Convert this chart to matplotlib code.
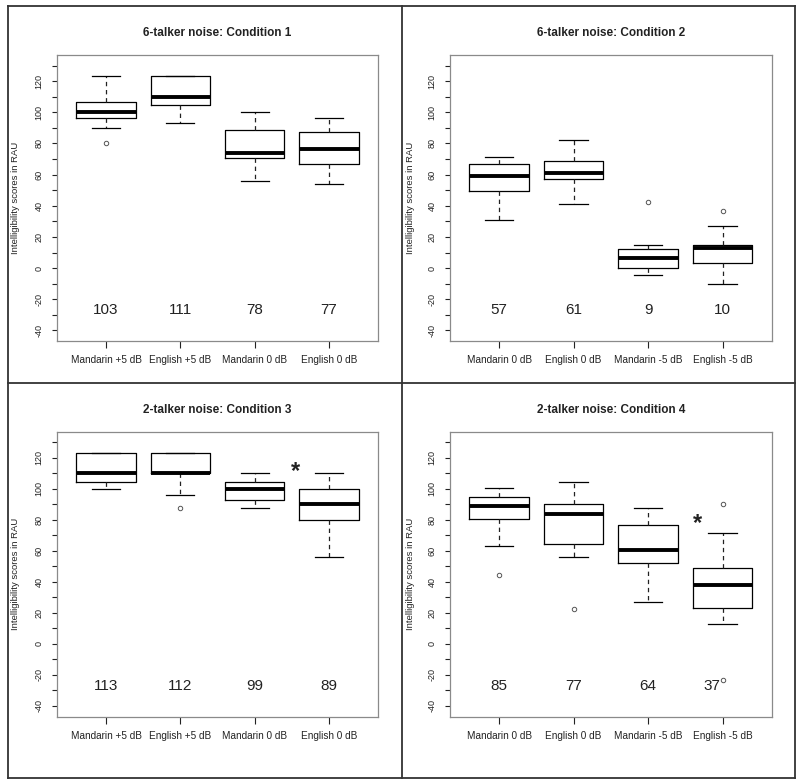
import matplotlib
matplotlib.use("Agg")
import matplotlib.pyplot as plt
from matplotlib.lines import Line2D

plt.rcParams['font.family'] = ['Liberation Sans', 'DejaVu Sans']

# ---------------- data ----------------
titles = ["6-talker noise: Condition 1", "6-talker noise: Condition 2",
          "2-talker noise: Condition 3", "2-talker noise: Condition 4"]

labels_a = ["Mandarin +5 dB", "English +5 dB", "Mandarin 0 dB", "English 0 dB"]
labels_b = ["Mandarin 0 dB", "English 0 dB", "Mandarin -5 dB", "English -5 dB"]

# Condition 1
c1_whislo = [90.2, 93.2, 55.7, 53.8]
c1_q1 = [96.4, 104.4, 70.5, 66.9]
c1_med = [100.3, 110.0, 74.1, 76.5]
c1_q3 = [106.9, 123.4, 88.7, 87.4]
c1_whishi = [123.4, 123.4, 100.3, 96.4]
c1_fliers = [[80.0], [], [], []]
c1_means = [103, 111, 78, 77]

# Condition 2
c2_whislo = [30.6, 40.9, -4.5, -10.3]
c2_q1 = [49.7, 57.4, 0.0, 3.2]
c2_med = [59.1, 61.3, 6.4, 12.6]
c2_q3 = [66.9, 69.0, 12.4, 15.0]
c2_whishi = [71.1, 82.5, 15.0, 26.8]
c2_fliers = [[], [], [42.4], [36.9]]
c2_means = [57, 61, 9, 10]

# Condition 3
c3_whislo = [100.1, 96.3, 87.7, 55.8]
c3_q1 = [104.4, 110.0, 93.0, 80.0]
c3_med = [110.0, 110.0, 100.1, 90.0]
c3_q3 = [122.8, 122.8, 104.4, 99.9]
c3_whishi = [122.8, 122.8, 110.0, 110.0]
c3_fliers = [[], [87.7], [], []]
c3_means = [113, 112, 99, 89]

# Condition 4
c4_whislo = [63.3, 55.9, 27.0, 12.6]
c4_q1 = [80.2, 64.4, 52.0, 23.3]
c4_med = [89.0, 83.9, 60.3, 38.1]
c4_q3 = [94.5, 90.0, 76.6, 49.2]
c4_whishi = [100.3, 104.6, 87.7, 71.3]
c4_fliers = [[44.7], [22.5], [], [90.3, -23.1]]
c4_means = [85, 77, 64, 37]

yticks = list(range(-40, 131, 10))
ylabels_shown = [str(v) if v % 20 == 0 else "" for v in yticks]

panels = [
    (labels_a, c1_whislo, c1_q1, c1_med, c1_q3, c1_whishi, c1_fliers, c1_means, None),
    (labels_b, c2_whislo, c2_q1, c2_med, c2_q3, c2_whishi, c2_fliers, c2_means, None),
    (labels_a, c3_whislo, c3_q1, c3_med, c3_q3, c3_whishi, c3_fliers, c3_means, (3.556, 111.0)),
    (labels_b, c4_whislo, c4_q1, c4_med, c4_q3, c4_whishi, c4_fliers, c4_means, (3.67, 77.4)),
]

# ---------------- layout ----------------
W, H = 800, 783
fig = plt.figure(figsize=(W / 100, H / 100), dpi=100)

def rect(x0, y0, x1, y1):
    return [x0 / W, 1 - y1 / H, (x1 - x0) / W, (y1 - y0) / H]

ax_rects = [rect(57, 55, 378, 341), rect(450, 55, 771.7, 341),
            rect(57, 431.7, 378, 716.5), rect(450, 431.7, 771.7, 716.5)]
ylab_x = [-0.114, -0.108, -0.114, -0.108]

for i, (labels, wlo, q1, med, q3, whi, fl, means, star) in enumerate(panels):
    ax = fig.add_axes(ax_rects[i])
    stats = []
    for j in range(4):
        stats.append(dict(whislo=wlo[j], q1=q1[j], med=med[j], q3=q3[j],
                          whishi=whi[j], fliers=fl[j], label=labels[j]))
    pos = [1, 2, 3, 4]
    ax.bxp(stats, positions=pos, widths=0.8, patch_artist=False,
           boxprops=dict(color="black", linewidth=0.9),
           medianprops=dict(color="black", linewidth=2.8, solid_capstyle="butt"),
           whiskerprops=dict(color="#222222", linewidth=0.9, linestyle=(0, (3.5, 3))),
           capprops=dict(color="black", linewidth=0.9),
           capwidths=0.38,
           flierprops=dict(marker="o", markersize=3.2, markerfacecolor="none",
                           markeredgecolor="#555555", markeredgewidth=0.7))
    ax.set_xlim(0.34, 4.66)
    ax.set_ylim(-46.8, 136.8)
    ax.set_yticks(yticks)
    ax.set_yticklabels(ylabels_shown)
    ax.set_xticks(pos)
    ax.set_xticklabels(labels)
    ax.tick_params(axis="y", labelrotation=90, length=3.6, width=0.8, pad=6,
                   labelsize=6.5, color="#222222", labelcolor="#222222")
    ax.tick_params(axis="x", length=4.8, width=0.8, pad=5.3,
                   labelsize=7.2, color="#222222", labelcolor="#222222")
    for lbl in ax.get_yticklabels():
        lbl.set_verticalalignment("center")
    for sp in ax.spines.values():
        sp.set_color("#8a8a8a")
        sp.set_linewidth(0.9)
    ax.set_title(titles[i], fontsize=8.5, fontweight="bold", pad=13.5, color="#222222")
    ax.set_ylabel("Intelligibility scores in RAU", fontsize=6.8, color="#222222")
    ax.yaxis.set_label_coords(ylab_x[i], 0.5)
    for j, m in enumerate(means):
        xshift = -0.14 if (i == 3 and j == 3) else 0.0
        ax.text(pos[j] + xshift, -27, str(m), ha="center", va="center",
                fontsize=11, color="#222222")
    if star is not None:
        ax.text(star[0], star[1], "*", ha="center", va="center",
                fontsize=17, fontweight="bold", color="#222222")

# panel frames
def fl_line(x0, y0, x1, y1):
    fig.add_artist(Line2D([x0 / W, x1 / W], [1 - y0 / H, 1 - y1 / H],
                          transform=fig.transFigure, color="#333333", linewidth=1.3))

L, R, T, B, VX, HY = 8, 795, 6, 778, 402, 383
fl_line(L, T, R, T)
fl_line(L, B, R, B)
fl_line(L, T, L, B)
fl_line(R, T, R, B)
fl_line(VX, T, VX, B)
fl_line(L, HY, R, HY)

fig.savefig("out.png", dpi=100, facecolor="white")
